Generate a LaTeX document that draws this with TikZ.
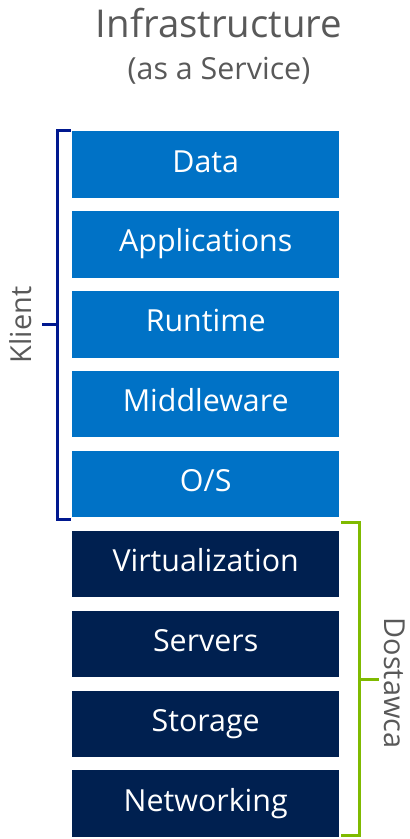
\documentclass[tikz,border=0pt]{standalone}
\usepackage{fontspec}
\setmainfont{Open Sans}
\definecolor{layerlight}{HTML}{0072C6}
\definecolor{layerdark}{HTML}{002050}
\definecolor{clientbr}{HTML}{00188F}
\definecolor{providerbr}{HTML}{7FBA00}
\definecolor{captiongray}{HTML}{595959}
\tikzset{
  layer/.style={minimum width=267bp, minimum height=66.5bp, inner sep=0pt, anchor=north west},
  clientlayer/.style={layer, fill=layerlight},
  providerlayer/.style={layer, fill=layerdark},
  layertext/.style={text=white, font=\fontsize{30.5}{36}\selectfont, inner sep=0pt, anchor=base},
  bracket/.style={line width=3bp, miter limit=10},
  sidecaption/.style={text=captiongray, font=\fontsize{29}{34}\selectfont, inner sep=0pt, anchor=base}
}
\newcommand{\stacklayer}[4]{%
  \node[#1] (#2) at (72,#3) {};
  \node[layertext] (#2-label) at ([yshift=-41bp]#2.north) {#4};
}
\begin{document}
\begin{tikzpicture}[x=1bp, y=-1bp]
\useasboundingbox (0,0) rectangle (409,839);
% title
\node[text=captiongray, font=\fontsize{38.5}{45}\selectfont, inner sep=0pt, anchor=base] (title) at (219,37) {Infrastructure};
\node[text=captiongray, font=\fontsize{30.5}{35}\selectfont, inner sep=0pt, anchor=base] (subtitle) at (219,79) {(as a Service)};
% stack of layers
\stacklayer{clientlayer}{data}{131}{Data}
\stacklayer{clientlayer}{apps}{210.9}{Applications}
\stacklayer{clientlayer}{runtime}{290.8}{Runtime}
\stacklayer{clientlayer}{middleware}{370.7}{Middleware}
\stacklayer{clientlayer}{os}{450.6}{O/S}
\stacklayer{providerlayer}{virt}{530.5}{Virtualization}
\stacklayer{providerlayer}{servers}{610.4}{Servers}
\stacklayer{providerlayer}{storage}{690.3}{Storage}
\stacklayer{providerlayer}{network}{770.2}{Networking}
% client bracket
\coordinate (ctop) at (71,130);
\coordinate (cbot) at (71,519);
\draw[bracket, clientbr] (ctop) -- (57,130) -- (57,519) -- (cbot);
\coordinate (ctick) at (42,324);
\draw[bracket, clientbr] (57,324) -- (ctick);
\node[sidecaption, rotate=90] (klient) at (31,325) {Klient};
% provider bracket
\coordinate (ptop) at (341,522);
\coordinate (pbot) at (341,835);
\draw[bracket, providerbr] (ptop) -- (359,522) -- (359,835) -- (pbot);
\coordinate (ptick) at (379,679);
\draw[bracket, providerbr] (359,679) -- (ptick);
\node[sidecaption, rotate=-90] (dostawca) at (384.5,683) {Dostawca};
\end{tikzpicture}
\end{document}
